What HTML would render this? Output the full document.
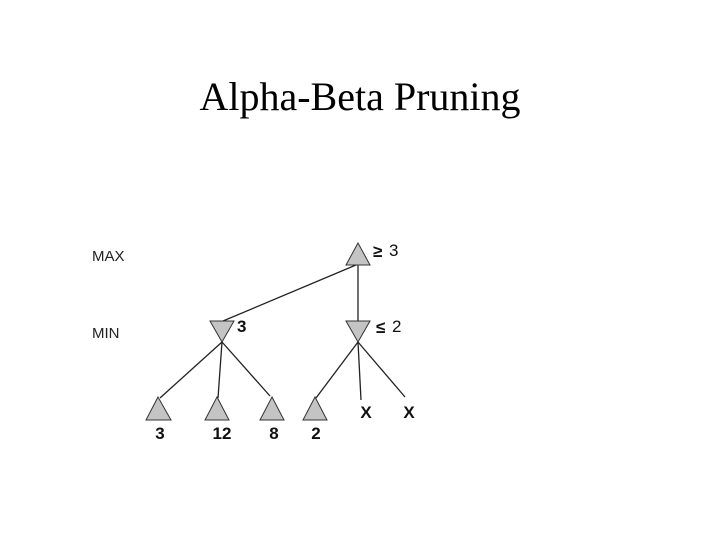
<!DOCTYPE html>
<html><head><style>
body{margin:0;background:#fff;}
</style></head><body>
<svg width="720" height="540" xmlns="http://www.w3.org/2000/svg" style="display:block">
<rect width="720" height="540" fill="#fff"/>
<text x="360" y="110" text-anchor="middle" font-family="Liberation Serif, serif" font-size="40">Alpha-Beta Pruning</text>
<g font-family="Liberation Sans, sans-serif" font-size="15" fill="#222">
<text x="92" y="261">MAX</text>
<text x="92" y="338">MIN</text>
</g>
<g stroke="#222" stroke-width="1.3" fill="none">
<line x1="356" y1="265" x2="223" y2="321"/>
<line x1="358" y1="264" x2="358" y2="321"/>
<line x1="222" y1="342" x2="160" y2="398"/>
<line x1="222" y1="342" x2="218" y2="398"/>
<line x1="222" y1="342" x2="270" y2="396"/>
<line x1="358" y1="342" x2="316" y2="398"/>
<line x1="358" y1="342" x2="361" y2="400"/>
<line x1="358" y1="342" x2="405" y2="397"/>
</g>
<g fill="#c4c4c4" stroke="#333" stroke-width="1">
<polygon points="358,243 346,265 370,265"/>
<polygon points="210,321 234,321 222,342"/>
<polygon points="346,321 370,321 358,342"/>
<polygon points="158,397 146,420 171,420"/>
<polygon points="217,397 205,420 229,420"/>
<polygon points="272,397 260,420 284,420"/>
<polygon points="315,397 303,420 327,420"/>
</g>
<g font-family="Liberation Sans, sans-serif" font-size="17" font-weight="bold" fill="#111">
<text x="373" y="257">≥</text>
<text x="389" y="256" font-weight="normal">3</text>
<text x="237" y="332">3</text>
<text x="376" y="333">≤</text>
<text x="392" y="332" font-weight="normal">2</text>
<text x="160" y="439" text-anchor="middle">3</text>
<text x="222" y="439" text-anchor="middle">12</text>
<text x="274" y="439" text-anchor="middle">8</text>
<text x="316" y="439" text-anchor="middle">2</text>
<text x="366" y="418" text-anchor="middle">X</text>
<text x="409" y="418" text-anchor="middle">X</text>
</g>
</svg>
</body></html>
